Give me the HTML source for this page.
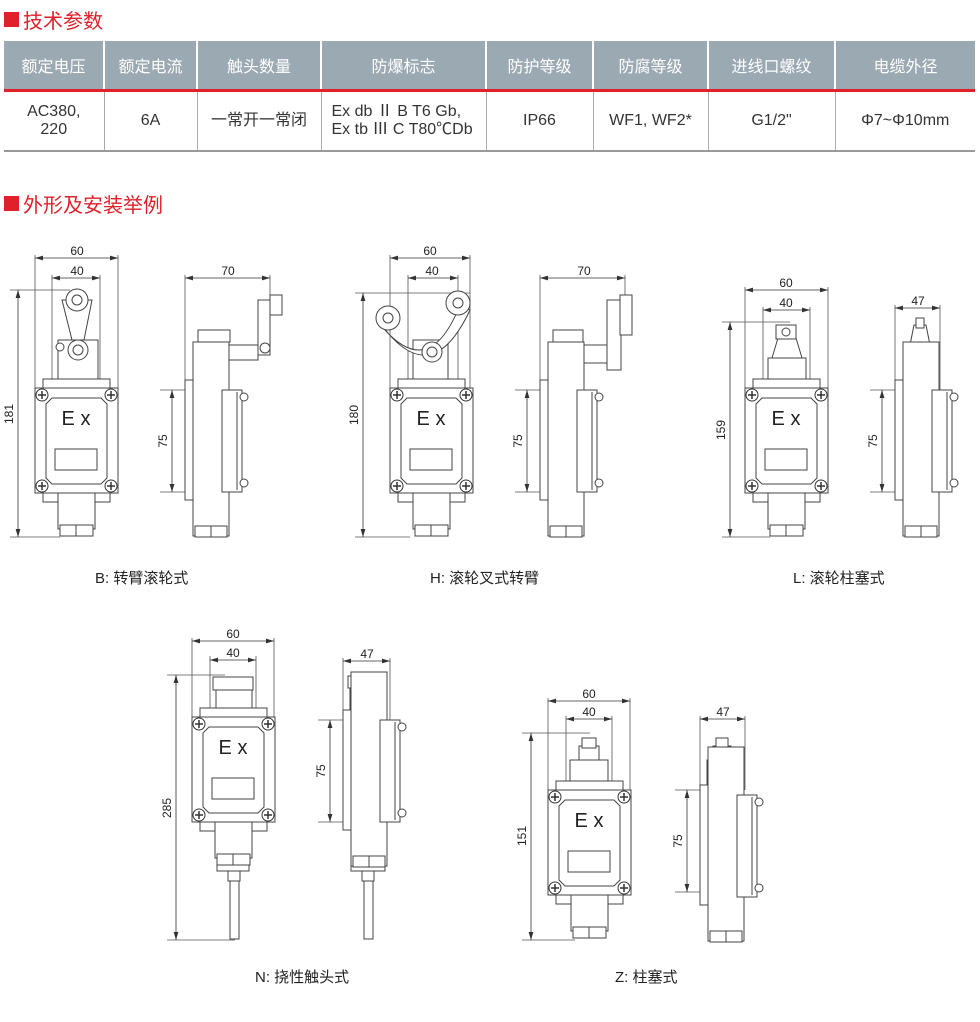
<!DOCTYPE html>
<html><head><meta charset="utf-8"><style>
body{margin:0;width:980px;height:1022px;background:#fff;position:relative;font-family:"Liberation Sans","Noto Sans CJK SC",sans-serif;overflow:hidden}
.t{position:absolute;font-size:20px;color:#e0202a;display:flex;align-items:center}
.t i{display:inline-block;width:15px;height:15px;background:#e0202a;margin-right:4px}
table{position:absolute;left:4px;top:41px;width:971px;border-collapse:collapse;font-size:16px;color:#333;table-layout:fixed}
th{background:#9ba9b3;color:#fff;font-weight:normal;height:48px;border-left:2px solid #fff;border-bottom:3px solid #e0202a;font-size:16px;padding:0}
th:first-child,td:first-child{border-left:none}
td{text-align:center;height:58px;border-left:1px solid #aaa;border-bottom:2px solid #999;line-height:18px;padding:0}
svg{position:absolute;left:0;top:0}
</style></head><body>
<div class="t" style="left:4px;top:5px"><i></i>技术参数</div>
<table><colgroup><col style="width:100px"><col style="width:93px"><col style="width:124px"><col style="width:165px"><col style="width:107px"><col style="width:115px"><col style="width:127px"><col style="width:140px"></colgroup>
<tr><th>额定电压</th><th>额定电流</th><th>触头数量</th><th>防爆标志</th><th>防护等级</th><th>防腐等级</th><th>进线口螺纹</th><th>电缆外径</th></tr>
<tr><td>AC380,<br>220</td><td>6A</td><td>一常开一常闭</td><td style="text-align:left;padding-left:10px">Ex db Ⅱ B T6 Gb,<br>Ex tb Ⅲ C T80℃Db</td><td>IP66</td><td>WF1, WF2*</td><td>G1/2"</td><td>Φ7~Φ10mm</td></tr></table>
<div class="t" style="left:4px;top:189px"><i></i>外形及安装举例</div>
<svg width="980" height="1022" viewBox="0 0 980 1022" font-family="Liberation Sans, Noto Sans CJK SC, sans-serif">
<defs>
<marker id="a" viewBox="0 0 10 6" refX="10" refY="3" markerWidth="10" markerHeight="6" orient="auto-start-reverse"><path d="M0,0L10,3L0,6z" fill="#333"/></marker>
<g id="sc"><circle r="6" fill="#fff" stroke="#333"/><path d="M-4,0H4M0,-4V4" stroke="#333" stroke-width="1.5"/></g>
<g id="front" fill="#fff" stroke="#444" stroke-width="1">
<rect x="8" y="-9" width="67" height="9"/><rect x="8" y="105" width="67" height="9"/>
<rect x="23" y="105" width="37" height="36"/>
<rect x="25" y="137" width="33" height="11"/><line x1="41" y1="137" x2="41" y2="148"/>
<rect x="0" y="0" width="83" height="105"/>
<path d="M17,10H66L72,16V90L66,96H17L11,90V16Z"/>
<rect x="20" y="61" width="42" height="21"/>
<text x="41" y="37" font-size="20" text-anchor="middle" fill="#222" stroke="none">E x</text>
<use href="#sc" x="7" y="7"/><use href="#sc" x="76" y="7"/><use href="#sc" x="7" y="98"/><use href="#sc" x="76" y="98"/>
</g>
<g id="side" fill="#fff" stroke="#444" stroke-width="1">
<rect x="8" y="-38" width="36" height="194"/>
<rect x="10" y="146" width="32" height="11"/><line x1="26" y1="146" x2="26" y2="157"/>
<rect x="0" y="0" width="8" height="120"/>
<rect x="37" y="10" width="20" height="102"/><line x1="52" y1="12" x2="52" y2="110"/>
<circle cx="59" cy="17" r="4"/><circle cx="59" cy="103" r="4"/>
</g>
</defs>
<g stroke="#555" stroke-width="0.8" fill="none">
<path d="M35,255V388M118,255V388M52,275V388M100,275V388M10,290H70M10,537H60M185,275V380M270,275V300M160,390H185M160,492H185"/>
<path d="M390,255V388M470,255V388M408,275V388M458,275V388M355,293H470M355,537H410M540,275V380M625,275V300M515,390H540M515,492H540"/>
<path d="M745,287V388M828,287V388M763,307V388M810,307V388M722,322H790M722,537H770M895,305V380M940,305V400M870,390H895M870,492H895"/>
<path d="M192,638V717M274,638V717M210,656V717M256,656V717M167,675H225M167,940H235M343,658V710M390,658V730M318,720H343M318,822H343"/>
<path d="M548,698V790M630,698V790M566,716V790M612,716V790M522,733H590M522,940H575M700,716V785M745,716V790M675,790H700M675,892H700"/>
</g>
<g stroke="#333" stroke-width="0.8" marker-start="url(#a)" marker-end="url(#a)">
<line x1="35" y1="258" x2="118" y2="258"/><line x1="52" y1="278" x2="100" y2="278"/><line x1="18" y1="290" x2="18" y2="537"/><line x1="185" y1="278" x2="270" y2="278"/><line x1="172" y1="390" x2="172" y2="492"/>
<line x1="390" y1="258" x2="470" y2="258"/><line x1="408" y1="278" x2="458" y2="278"/><line x1="363" y1="293" x2="363" y2="537"/><line x1="540" y1="278" x2="625" y2="278"/><line x1="527" y1="390" x2="527" y2="492"/>
<line x1="745" y1="290" x2="828" y2="290"/><line x1="763" y1="310" x2="810" y2="310"/><line x1="730" y1="322" x2="730" y2="537"/><line x1="895" y1="308" x2="940" y2="308"/><line x1="882" y1="390" x2="882" y2="492"/>
<line x1="192" y1="641" x2="274" y2="641"/><line x1="210" y1="660" x2="256" y2="660"/><line x1="176" y1="675" x2="176" y2="940"/><line x1="343" y1="661" x2="390" y2="661"/><line x1="330" y1="720" x2="330" y2="822"/>
<line x1="548" y1="701" x2="630" y2="701"/><line x1="566" y1="719" x2="612" y2="719"/><line x1="531" y1="733" x2="531" y2="940"/><line x1="700" y1="719" x2="745" y2="719"/><line x1="687" y1="790" x2="687" y2="892"/>
</g>
<g font-size="12" fill="#222" text-anchor="middle">
<text x="77" y="255">60</text><text x="77" y="275">40</text><text x="228" y="275">70</text><text transform="translate(13,414) rotate(-90)">181</text><text transform="translate(167,441) rotate(-90)">75</text>
<text x="430" y="255">60</text><text x="432" y="275">40</text><text x="584" y="275">70</text><text transform="translate(358,415) rotate(-90)">180</text><text transform="translate(522,441) rotate(-90)">75</text>
<text x="786" y="287">60</text><text x="786" y="307">40</text><text x="918" y="305">47</text><text transform="translate(725,430) rotate(-90)">159</text><text transform="translate(877,441) rotate(-90)">75</text>
<text x="233" y="638">60</text><text x="233" y="657">40</text><text x="367" y="658">47</text><text transform="translate(171,808) rotate(-90)">285</text><text transform="translate(325,771) rotate(-90)">75</text>
<text x="589" y="698">60</text><text x="589" y="716">40</text><text x="723" y="716">47</text><text transform="translate(526,836) rotate(-90)">151</text><text transform="translate(682,841) rotate(-90)">75</text>
</g>
<g fill="#fff" stroke="#444" stroke-width="1">
<rect x="58" y="340" width="40" height="48"/><path d="M62,300L72,340H84L92,300Z"/><circle cx="77" cy="300" r="11"/><circle cx="77" cy="300" r="5"/><circle cx="78" cy="350" r="10"/><circle cx="78" cy="350" r="5"/><circle cx="60" cy="347" r="4"/>
<rect x="198" y="330" width="32" height="12"/><path d="M228,345H258V360H228Z"/><rect x="258" y="300" width="12" height="55"/><rect x="270" y="295" width="12" height="20"/><circle cx="265" cy="348" r="5"/>
<rect x="413" y="340" width="35" height="48"/><path d="M385,330Q430,380 460,305L470,310Q430,395 378,320Z"/><circle cx="388" cy="318" r="12"/><circle cx="388" cy="318" r="5"/><circle cx="458" cy="303" r="12"/><circle cx="458" cy="303" r="5"/><circle cx="432" cy="352" r="10"/><circle cx="432" cy="352" r="5"/>
<rect x="553" y="330" width="30" height="12"/><rect x="582" y="345" width="25" height="18"/><rect x="607" y="300" width="14" height="70"/><rect x="620" y="295" width="12" height="40"/>
<rect x="768" y="358" width="38" height="30"/><path d="M772,358L778,338H796L802,358Z"/><rect x="776" y="325" width="20" height="14"/><circle cx="786" cy="332" r="4"/>
<rect x="906" y="345" width="26" height="35"/><path d="M910,345L914,325H926L930,345Z"/><rect x="916" y="318" width="8" height="10"/>
<rect x="216" y="690" width="36" height="27"/><rect x="213" y="677" width="40" height="13"/>
<rect x="350" y="688" width="30" height="22"/><rect x="348" y="676" width="34" height="12"/>
<rect x="217" y="846" width="32" height="25"/><rect x="228" y="871" width="12" height="10"/><rect x="230" y="881" width="9" height="58"/>
<rect x="351" y="846" width="34" height="25"/><rect x="362" y="871" width="12" height="10"/><rect x="364" y="881" width="9" height="58"/>
<rect x="570" y="760" width="38" height="30"/><rect x="579" y="746" width="20" height="14"/><rect x="582" y="738" width="14" height="10"/>
<rect x="707" y="760" width="30" height="25"/><rect x="713" y="746" width="18" height="14"/><rect x="716" y="738" width="12" height="10"/>
</g>
<use href="#front" x="35" y="388"/><use href="#side" x="185" y="380"/>
<use href="#front" x="390" y="388"/><use href="#side" x="540" y="380"/>
<use href="#front" x="745" y="388"/><use href="#side" x="895" y="380"/>
<use href="#front" x="192" y="717"/><use href="#side" x="343" y="710"/>
<use href="#front" x="548" y="790"/><use href="#side" x="700" y="785"/>
<g font-size="15" fill="#222">
<text x="95" y="583">B:  转臂滚轮式</text>
<text x="430" y="583">H:  滚轮叉式转臂</text>
<text x="793" y="583">L:  滚轮柱塞式</text>
<text x="255" y="982">N:  挠性触头式</text>
<text x="615" y="982">Z:  柱塞式</text>
</g>
</svg>
</body></html>
